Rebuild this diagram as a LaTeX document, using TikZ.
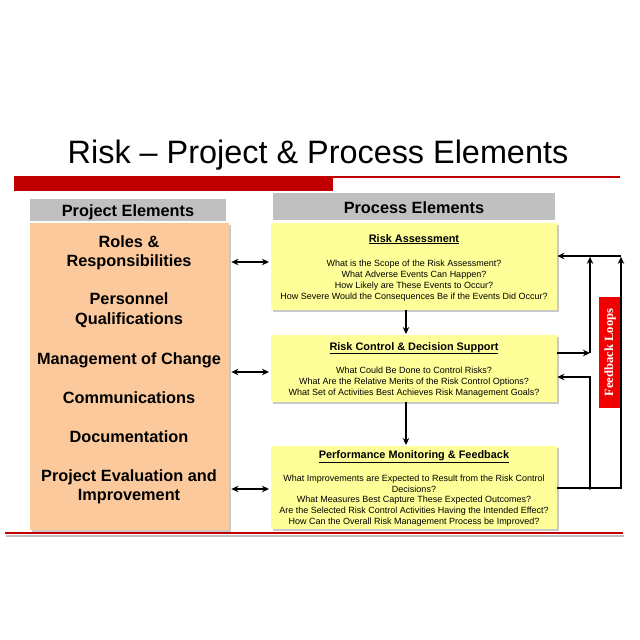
\documentclass[tikz,border=0pt]{standalone}
\usepackage{fontspec}
\setmainfont{Liberation Sans}
\newfontfamily\fbserif{Liberation Serif}
\usetikzlibrary{arrows.meta,shadows}
\definecolor{peach}{RGB}{251,201,155}
\definecolor{paleyellow}{RGB}{255,255,153}
\definecolor{hdrgray}{RGB}{192,192,192}
\definecolor{darkred}{RGB}{192,0,0}
\definecolor{brightred}{RGB}{240,0,0}
\tikzset{
  boxshadow/.style={drop shadow={shadow xshift=1.5pt,shadow yshift=-1.5pt,fill=black!35,opacity=0.6}},
  projbox/.style={fill=peach,draw=none,boxshadow,anchor=north west,inner sep=0},
  procbox/.style={fill=paleyellow,draw=none,boxshadow,anchor=north west,inner sep=0},
  hdrbox/.style={fill=hdrgray,draw=none,anchor=north west,inner sep=0},
  hdrtext/.style={font=\fontsize{16.3}{19}\selectfont\bfseries,anchor=base,inner sep=0},
  projtext/.style={font=\fontsize{16.3}{19}\selectfont\bfseries,anchor=base,inner sep=0},
  headtext/.style={font=\fontsize{10.9}{13}\selectfont\bfseries,anchor=base,inner sep=0},
  qtext/.style={font=\fontsize{9}{11}\selectfont,anchor=base,inner sep=0},
  conn/.style={line width=1.8pt,black},
  arr/.style={conn,-{Stealth[length=7pt,width=6.5pt]}},
  darr/.style={conn,{Stealth[length=7pt,width=6.5pt]}-{Stealth[length=7pt,width=6.5pt]}},
}
\begin{document}
\begin{tikzpicture}[x=1pt,y=-1pt]
\useasboundingbox[fill=white] (0,0) rectangle (640,640);
% title
\node[font=\fontsize{32.4}{38}\selectfont,anchor=base,inner sep=0] (title) at (318,163) {Risk -- Project \& Process Elements};
% red bars
\draw[darkred,line width=2pt] (14,176.5) -- (620,176.5);
\fill[darkred] (14,177) rectangle (333,191);
% headers
\node[hdrbox,minimum width=196pt,minimum height=22pt] (projhdr) at (30,199) {};
\node[hdrtext] (projhdrt) at (128,216) {Project Elements};
\node[hdrbox,minimum width=282pt,minimum height=27pt] (prochdr) at (273,193) {};
\node[hdrtext] (prochdrt) at (414,213) {Process Elements};
% project box
\node[projbox,minimum width=199pt,minimum height=307pt] (proj) at (30,223) {};
\node[projtext] (p1) at (129,247) {Roles \&};
\node[projtext] (p2) at (129,266) {Responsibilities};
\node[projtext] (p3) at (129,304) {Personnel};
\node[projtext] (p4) at (129,324) {Qualifications};
\node[projtext] (p5) at (129,364) {Management of Change};
\node[projtext] (p6) at (129,403) {Communications};
\node[projtext] (p7) at (129,442) {Documentation};
\node[projtext] (p8) at (129,481) {Project Evaluation and};
\node[projtext] (p9) at (129,500) {Improvement};
% process boxes
\node[procbox,minimum width=286pt,minimum height=87pt] (b1) at (271,223) {};
\node[headtext] (b1h) at (414,242) {\underline{Risk Assessment}};
\node[qtext] (b1a) at (414,266) {What is the Scope of the Risk Assessment?};
\node[qtext] (b1b) at (414,277) {What Adverse Events Can Happen?};
\node[qtext] (b1c) at (414,288) {How Likely are These Events to Occur?};
\node[qtext] (b1d) at (414,299) {How Severe Would the Consequences Be if the Events Did Occur?};
\node[procbox,minimum width=286pt,minimum height=67pt] (b2) at (271,335) {};
\node[headtext] (b2h) at (414,350) {\underline{Risk Control \& Decision Support}};
\node[qtext] (b2a) at (414,373) {What Could Be Done to Control Risks?};
\node[qtext] (b2b) at (414,384) {What Are the Relative Merits of the Risk Control Options?};
\node[qtext] (b2c) at (414,395) {What Set of Activities Best Achieves Risk Management Goals?};
\node[procbox,minimum width=286pt,minimum height=83pt] (b3) at (271,446) {};
\node[headtext] (b3h) at (414,458) {\underline{Performance Monitoring \& Feedback}};
\node[qtext] (b3a) at (414,481) {What Improvements are Expected to Result from the Risk Control};
\node[qtext] (b3b) at (414,492) {Decisions?};
\node[qtext] (b3c) at (414,502.5) {What Measures Best Capture These Expected Outcomes?};
\node[qtext] (b3d) at (414,513) {Are the Selected Risk Control Activities Having the Intended Effect?};
\node[qtext] (b3e) at (414,524) {How Can the Overall Risk Management Process be Improved?};
% bottom line
\draw[black!25,line width=2pt] (6,536) -- (624,536);
\draw[darkred,line width=2.5pt] (5,533) -- (623,533);
% double arrows
\draw[darr] ([xshift=2pt]proj.east |- 0,262) -- ([xshift=-2pt]b1.west |- 0,262);
\draw[darr] ([xshift=2pt]proj.east |- 0,372) -- ([xshift=-2pt]b2.west |- 0,372);
\draw[darr] ([xshift=2pt]proj.east |- 0,489) -- ([xshift=-2pt]b3.west |- 0,489);
% vertical arrows
\draw[arr] (b1.south -| 406,0) -- ([yshift=1pt]b2.north -| 406,0);
\draw[arr] (b2.south -| 406,0) -- ([yshift=1pt]b3.north -| 406,0);
% feedback label
\node[fill=brightred,minimum width=22pt,minimum height=111pt,inner sep=0,anchor=north west] (fb) at (599,297) {};
\node[rotate=90,font=\fbserif\fontsize{12.6}{14}\selectfont\bfseries,text=white,inner sep=0] (fbt) at (610,352.5) {Feedback Loops};
% feedback loops
\coordinate (ci256) at (590,256);
\coordinate (co256) at (621,256);
\coordinate (ci353) at (590,353);
\coordinate (ci377) at (590,377);
\coordinate (ci488) at (590,488);
\coordinate (co488) at (621,488);
\draw[arr] (co256) -- (b1.east |- co256);
\draw[arr] (b2.east |- ci353) -- (ci353);
\draw[arr] (ci353) -- ([yshift=-0.9pt]ci256);
\draw[arr] (b3.east |- co488) -- (co488) -- ([yshift=-0.9pt]co256);
\draw[arr] (ci488) -- (ci377) -- (b2.east |- ci377);
\fill (ci488) circle (1.8pt);
\end{tikzpicture}
\end{document}
